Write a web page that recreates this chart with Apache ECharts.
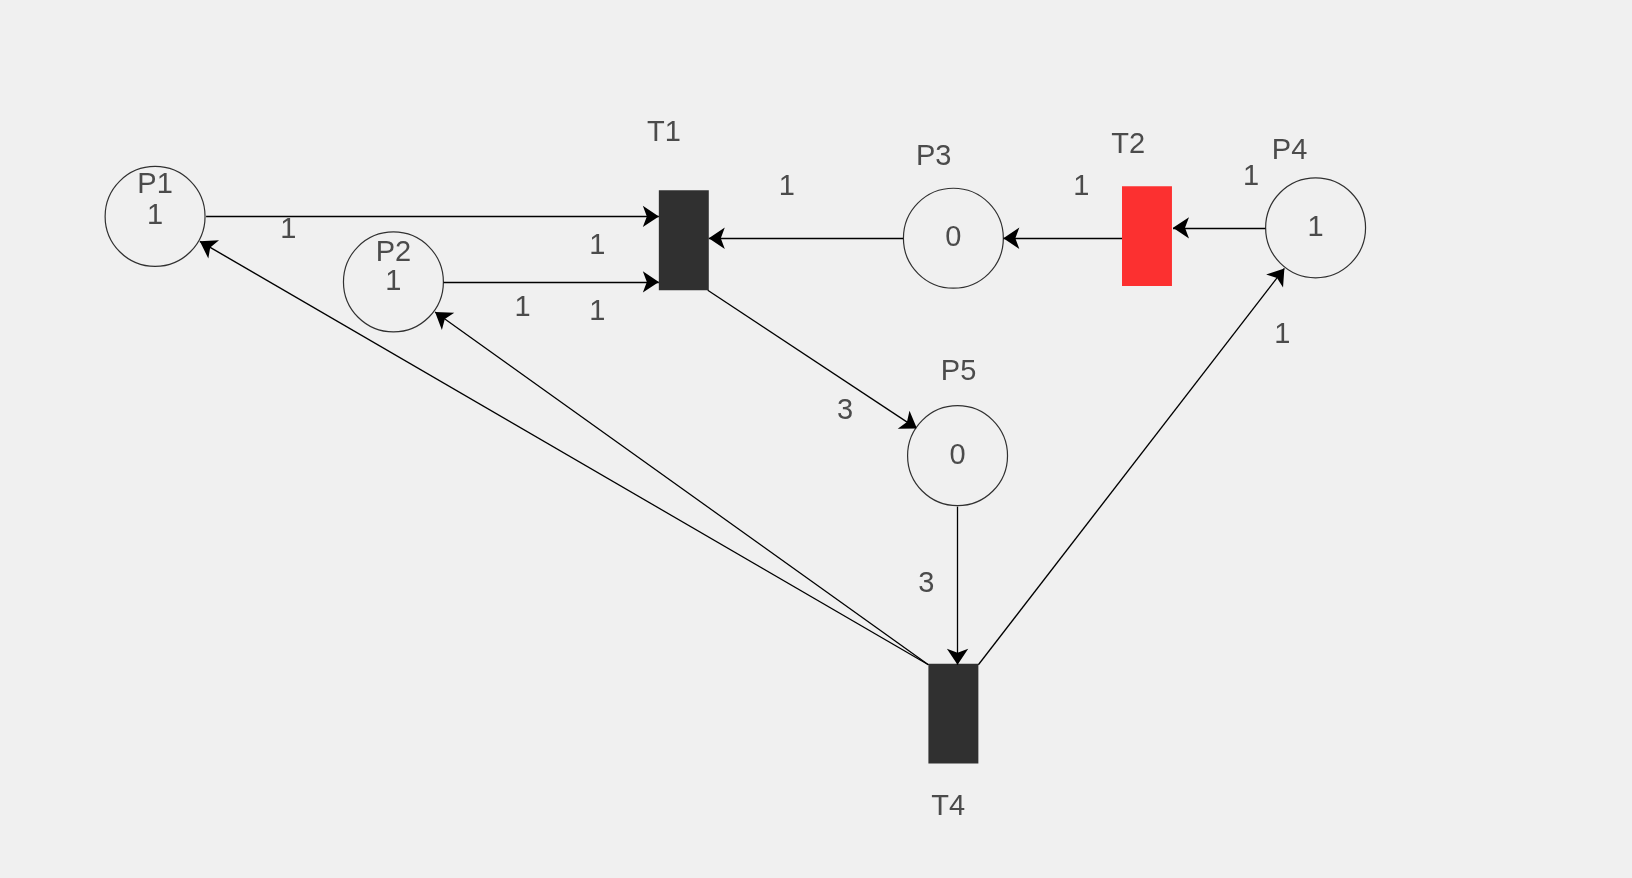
<!DOCTYPE html>
<html><head><meta charset="utf-8">
<script src="https://cdn.jsdelivr.net/npm/echarts@6/dist/echarts.min.js"></script>
<style>html,body{margin:0;padding:0;background:#f0f0f0}#c{width:1632px;height:878px}</style>
</head><body><div id="c"></div>
<script>
// places: name, x, y, tokens, name label position
const places = [
  ['P1',149,208,'1',149,178],
  ['P2',378,271,'1',378,243],
  ['P3',916,229,'0',897,151],
  ['P4',1264,219,'1',1239,145],
  ['P5',920,438,'0',921,358]
];
// transitions: name, x, y, color, label position
const transitions = [
  ['T1',657,231,'#000000',638,128],
  ['T2',1102,227,'#ff0000',1084,139],
  ['T4',916,686,'#000000',911,776]
];
// arcs: start point -> end point
const arcs = [
  [[198,208],[633,208]],
  [[426,271],[633,271]],
  [[868,229],[681,229]],
  [[1078,229],[964,229]],
  [[1216,219],[1127,219]],
  [[680,279],[881,412]],
  [[920,487],[920,639]],
  [[892,639],[192,232]],
  [[892,639],[418,300]],
  [[940,639],[1234,258]]
];
// arc weight labels
const arcLabels = [
  ['1',277,221],['1',574,236],['1',502,296],['1',574,300],
  ['1',756,180],['1',1039,180],['1',1202,170],['3',812,395],
  ['3',890,561],['1',1232,322]
];
const S = 1632/1568;
const font = {fontFamily:'Liberation Sans', fontSize:29, color:'#222'};
const textSeries = (data) => ({
  type:'scatter', symbolSize:0, silent:true, z:10,
  data: data.map(d=>({value:[d[1],d[2]], name:d[0]})),
  label:{show:true, position:'inside', formatter:p=>p.name, ...font}
});
const chart = echarts.init(document.getElementById('c'));
chart.setOption({
  backgroundColor:'#f0f0f0', animation:false,
  grid:{left:0,right:0,top:0,bottom:0},
  xAxis:{type:'value',min:0,max:1568,show:false},
  yAxis:{type:'value',min:0,max:844,inverse:true,show:false},
  series:[
    {type:'lines', coordinateSystem:'cartesian2d', z:2,
     symbol:['none','arrow'], symbolSize:16,
     lineStyle:{color:'#000',width:1.3,opacity:1},
     data: arcs.map(a=>({coords:a}))},
    {type:'scatter', symbol:'circle', symbolSize:96*S, z:3,
     itemStyle:{color:'#f0f0f0',borderColor:'#000',borderWidth:1.2},
     data: places.map(p=>[p[1],p[2]])},
    {type:'scatter', symbol:'rect', symbolSize:[48*S,96*S], z:3,
     data: transitions.map(t=>({value:[t[1],t[2]], itemStyle:{color:t[3]}}))},
    textSeries(places.map(p=>[p[3],p[1],p[2]])),
    textSeries(places.map(p=>[p[0],p[4],p[5]])),
    textSeries(transitions.map(t=>[t[0],t[4],t[5]])),
    textSeries(arcLabels)
  ]
});
</script></body></html>
